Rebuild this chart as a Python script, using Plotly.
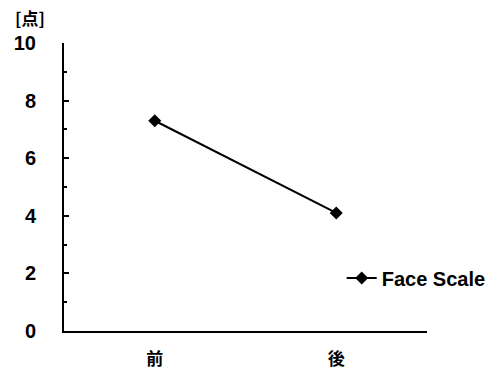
import plotly.graph_objects as go

categories = ["前", "後"]
face_scale = [7.3, 4.1]
series_name = "Face Scale"
y_unit = "[点]"

fig = go.Figure()
fig.add_trace(go.Scatter(
    x=categories, y=face_scale, name=series_name,
    mode="lines+markers",
    line=dict(color="black", width=2),
    marker=dict(symbol="diamond", size=10, color="black"),
    showlegend=True,
))

fig.update_layout(
    width=497, height=373,
    margin=dict(l=64, r=70, t=43, b=42, autoexpand=False),
    paper_bgcolor="white", plot_bgcolor="white",
    font=dict(family="Liberation Sans, Arial, sans-serif", color="black"),
    showlegend=True,
    legend=dict(
        x=0.765, y=0.184, xanchor="left", yanchor="middle",
        bgcolor="rgba(0,0,0,0)", borderwidth=0,
        font=dict(size=20, family="Liberation Sans, Arial, sans-serif", weight="bold"),
    ),
    xaxis=dict(
        type="category", range=[-0.5, 1.5], automargin=False,
        showline=True, linecolor="black", linewidth=2,
        showgrid=False, zeroline=False, ticks="",
        tickfont=dict(size=17, family="Noto Sans CJK JP", weight="bold"),
        ticklabelstandoff=12,
    ),
    yaxis=dict(
        range=[0, 10], tickvals=[0, 2, 4, 6, 8, 10], automargin=False,
        showline=True, linecolor="black", linewidth=2,
        showgrid=False, zeroline=False,
        ticks="inside", ticklen=5, tickwidth=2, tickcolor="black",
        minor=dict(dtick=1, ticks="inside", ticklen=3, tickwidth=1.5, tickcolor="black", showgrid=False),
        tickfont=dict(size=20, family="Liberation Sans, Arial, sans-serif", weight="bold"),
        ticklabelstandoff=22,
    ),
    annotations=[dict(
        text=y_unit, xref="paper", yref="paper",
        x=-0.095, y=1.0, xanchor="center", yanchor="bottom", yshift=11,
        showarrow=False,
        font=dict(size=17, family="Noto Sans CJK JP", weight="bold"),
    )],
)

fig.write_html("out.html")
